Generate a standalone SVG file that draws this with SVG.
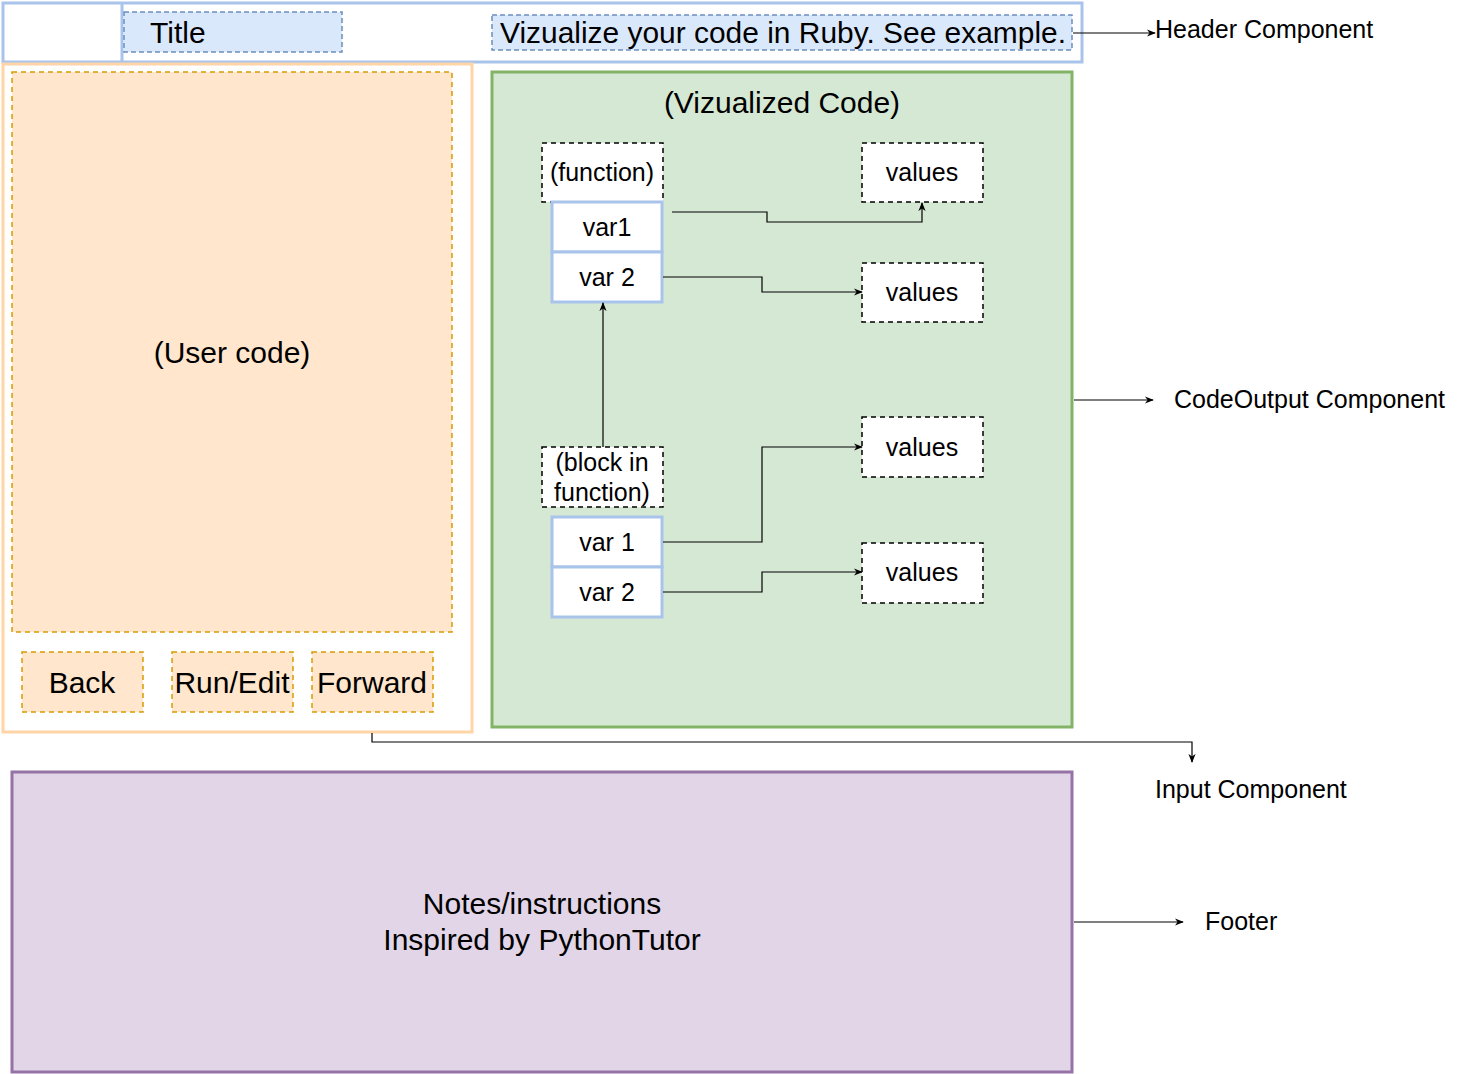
<svg xmlns="http://www.w3.org/2000/svg" width="1463" height="1074" viewBox="0 0 1463 1074">
<style>
text{font-family:"Liberation Sans",Arial,sans-serif;fill:#000}
.big{font-size:30px}
.sm{font-size:25px}
.mid{text-anchor:middle}
.var{fill:#fff;stroke:#a9c4eb;stroke-width:3}
.val{fill:#fff;stroke:#000;stroke-width:1.5;stroke-dasharray:5 4}
.btn{fill:#ffe6cc;stroke:#d79b00;stroke-width:1.5;stroke-dasharray:5 4}
.hd{fill:#dae8fc;stroke:#6c8ebf;stroke-width:1.5;stroke-dasharray:5 3}
.ln{fill:none;stroke:#000;stroke-width:1.2}
</style>
<defs>
<marker id="ar" viewBox="0 0 10 10" refX="9" refY="5" markerWidth="9" markerHeight="9" orient="auto" markerUnits="userSpaceOnUse">
<path d="M0,1 L10,5 L0,9 L3,5 Z" fill="#000"/>
</marker>
</defs>
<g id="header">
<rect x="3" y="3" width="1079" height="59" fill="#fff" stroke="#a9c4eb" stroke-width="3"/>
<line x1="122" y1="3" x2="122" y2="62" stroke="#a9c4eb" stroke-width="3"/>
<rect class="hd" x="124" y="12" width="218" height="40"/>
<text class="big" x="150" y="43">Title</text>
<rect class="hd" x="492" y="15" width="580" height="35"/>
<text x="500" y="43" style="font-size:29px" textLength="566" lengthAdjust="spacingAndGlyphs">Vizualize your code in Ruby. See example.</text>
</g>
<g id="input">
<rect x="3" y="64" width="469" height="668" fill="#fff" stroke="#ffd4a6" stroke-width="3"/>
<rect class="btn" x="12" y="72" width="440" height="560"/>
<text class="big mid" x="232" y="363">(User code)</text>
</g>
<g id="back"><rect class="btn" x="22" y="652" width="121" height="60"/><text class="big mid" x="82" y="693">Back</text></g>
<g id="runedit"><rect class="btn" x="172" y="652" width="121" height="60"/><text class="big mid" x="232" y="693">Run/Edit</text></g>
<g id="forward"><rect class="btn" x="312" y="652" width="121" height="60"/><text class="big mid" x="372" y="693">Forward</text></g>
<g id="codeoutput">
<rect x="492" y="72" width="580" height="655" fill="#d5e8d4" stroke="#82b366" stroke-width="3"/>
<text class="big mid" x="782" y="113">(Vizualized Code)</text>
</g>
<g id="function"><rect class="val" x="542" y="143" width="121" height="59"/><text class="sm mid" x="602" y="181">(function)</text></g>
<g id="fvar1"><rect class="var" x="552" y="202" width="110" height="50"/><text class="sm mid" x="607" y="236">var1</text></g>
<g id="fvar2"><rect class="var" x="552" y="252" width="110" height="50"/><text class="sm mid" x="607" y="286">var 2</text></g>
<g id="values1"><rect class="val" x="862" y="143" width="121" height="59"/><text class="sm mid" x="922" y="181">values</text></g>
<g id="values2"><rect class="val" x="862" y="263" width="121" height="59"/><text class="sm mid" x="922" y="301">values</text></g>
<g id="block"><rect class="val" x="542" y="447" width="121" height="60"/><text class="sm mid" x="602" y="471">(block in</text><text class="sm mid" x="602" y="501">function)</text></g>
<g id="bvar1"><rect class="var" x="552" y="517" width="110" height="50"/><text class="sm mid" x="607" y="551">var 1</text></g>
<g id="bvar2"><rect class="var" x="552" y="567" width="110" height="50"/><text class="sm mid" x="607" y="601">var 2</text></g>
<g id="values3"><rect class="val" x="862" y="417" width="121" height="60"/><text class="sm mid" x="922" y="456">values</text></g>
<g id="values4"><rect class="val" x="862" y="543" width="121" height="60"/><text class="sm mid" x="922" y="581">values</text></g>
<g id="footer">
<rect x="12" y="772" width="1060" height="300" fill="#e1d5e7" stroke="#9673a6" stroke-width="3"/>
<text class="big mid" x="542" y="914">Notes/instructions</text>
<text class="big mid" x="542" y="950">Inspired by PythonTutor</text>
</g>
<g id="labels">
<text class="sm" x="1155" y="38">Header Component</text>
<text class="sm" x="1174" y="408">CodeOutput Component</text>
<text class="sm" x="1155" y="798">Input Component</text>
<text class="sm" x="1205" y="930">Footer</text>
</g>
<g id="connectors">
<path class="ln" d="M1073,33 L1155,33" marker-end="url(#ar)"/>
<path class="ln" d="M1074,400 L1153,400" marker-end="url(#ar)"/>
<path class="ln" d="M372,733 L372,742 L1192,742 L1192,762" marker-end="url(#ar)"/>
<path class="ln" d="M1074,922 L1183,922" marker-end="url(#ar)"/>
<path class="ln" d="M672,212 L767,212 L767,222 L922,222 L922,203" marker-end="url(#ar)"/>
<path class="ln" d="M663,277 L762,277 L762,292 L862,292" marker-end="url(#ar)"/>
<path class="ln" d="M603,447 L603,303" marker-end="url(#ar)"/>
<path class="ln" d="M663,542 L762,542 L762,447 L862,447" marker-end="url(#ar)"/>
<path class="ln" d="M663,592 L762,592 L762,572 L862,572" marker-end="url(#ar)"/>
</g>
</svg>
